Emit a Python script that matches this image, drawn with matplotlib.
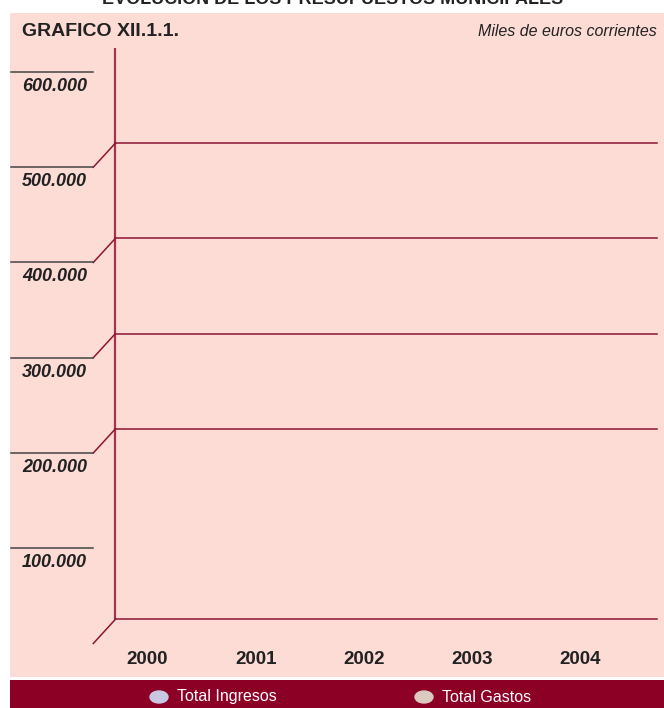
import matplotlib
matplotlib.use("Agg")
import matplotlib.pyplot as plt
from matplotlib.patches import Ellipse

plt.rcParams['font.family'] = ['Liberation Sans', 'DejaVu Sans']

# data (the bars themselves are absent in the reference, only the frame is drawn)
years = ['2000', '2001', '2002', '2003', '2004']
ytick_vals = [100000, 200000, 300000, 400000, 500000, 600000]
ytick_labels = ['100.000', '200.000', '300.000', '400.000', '500.000', '600.000']
back_grid = [0, 200000, 300000, 400000, 500000]
series = ['Total Ingresos', 'Total Gastos']
series_colors = ['#c8c8e2', '#dcc9bf']

pink = '#fddcd6'
wine = '#8c0026'
grid_c = '#8e1532'
txt = '#222222'

W, H = 664, 708
fig = plt.figure(figsize=(W / 100, H / 100), dpi=100)

def px(x, y):
    # pixel (from top-left) -> figure fraction
    return x / W, 1 - y / H

# pink panel = main axes
ax = fig.add_axes([10 / W, (H - 677) / H, 654 / W, 664 / H])
ax.set_facecolor(pink)
for s in ax.spines.values():
    s.set_visible(False)
ax.set_xticks([])
ax.set_yticks([])
ax.set_xlim(-1.269, 4.770)
ax.set_ylim(-35171, 661942)

dx = 0.203      # depth offset in category units
dy = 25200      # depth offset in value units
x0, x1 = -0.5, len(years) - 0.5

# back wall vertical
ax.plot([x0 + dx, x0 + dx], [dy, 600000 + dy], color='#a8314f', lw=1.6, solid_capstyle='butt')

# back wall gridlines and the diagonal joints
for v in back_grid:
    ax.plot([x0 + dx, x1 + dx], [v + dy, v + dy], color=grid_c, lw=1.1)
    ax.plot([x0, x0 + dx], [v, v + dy], color=grid_c, lw=1.1)

# left-hand short lines with the value labels under them
for v, lab in zip(ytick_vals, ytick_labels):
    ax.plot([-1.26, x0], [v, v], color='#444444', lw=1.1)
    ax.text(-0.558, v - 15000, lab, ha='right', va='center', fontsize=13,
            fontweight='bold', fontstyle='italic', color=txt)

# year labels
for i, y in enumerate(years):
    ax.text(i, -17300, y, ha='center', va='center', fontsize=13.5,
            fontweight='bold', color=txt)

# header texts
fig.text(*px(22, 31), 'GRAFICO XII.1.1.', ha='left', va='center',
         fontsize=14, fontweight='bold', color=txt)
fig.text(*px(657, 31), 'Miles de euros corrientes', ha='right', va='center',
         fontsize=11.5, fontstyle='italic', color=txt)
fig.text(*px(333, 4), 'EVOLUCIÓN DE LOS PRESUPUESTOS MUNICIPALES',
         ha='center', va='baseline', fontsize=13, fontweight='bold', color=txt)

# legend band
lg = fig.add_axes([10 / W, 0, 654 / W, 28 / H])
lg.set_facecolor(wine)
lg.set_xlim(10, 664)
lg.set_ylim(28, 0)
for s in lg.spines.values():
    s.set_visible(False)
lg.set_xticks([])
lg.set_yticks([])
for name, c, xc in zip(series, series_colors, [159, 424]):
    lg.add_patch(Ellipse((xc, 17), 18, 12, color=c))
    lg.text(xc + 18, 17, name, ha='left', va='center', fontsize=11.5, color='white')

fig.savefig('out.png', dpi=100)
